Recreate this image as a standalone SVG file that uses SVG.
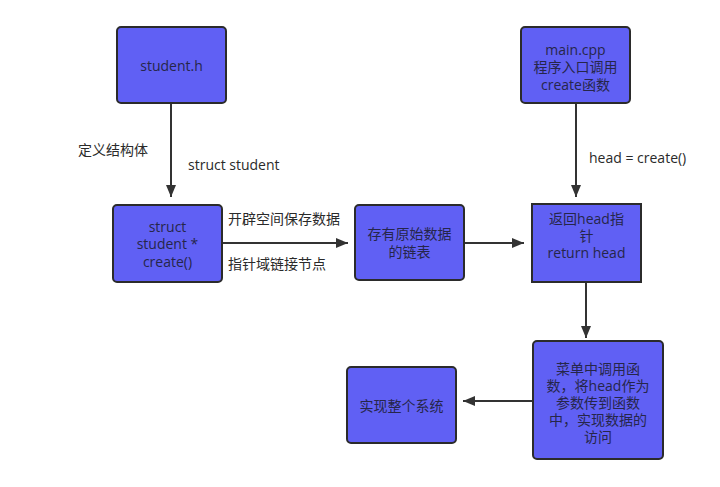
<svg xmlns="http://www.w3.org/2000/svg" width="720" height="487" viewBox="0 0 720 487">
<style>
.box{fill:#6060f4;stroke:#2b2b2b;stroke-width:2}
.t{font-family:"Open Sans","Noto Sans CJK SC",sans-serif;font-size:14px;fill:#26264a;text-anchor:middle}
.l{font-family:"Open Sans","Noto Sans CJK SC",sans-serif;font-size:14px;fill:#2a2a2a}
.c{stroke:#333;stroke-width:2;fill:none}
</style>
<defs>
<marker id="a" viewBox="0 0 12 10" refX="12" refY="5" markerWidth="12" markerHeight="10" markerUnits="userSpaceOnUse" orient="auto">
<path d="M0,0 L12,5 L0,10 z" fill="#333"/>
</marker>
</defs>
<rect width="720" height="487" fill="#fff"/>
<g id="connectors">
<line class="c" x1="171" y1="103" x2="171" y2="197" marker-end="url(#a)"/>
<line class="c" x1="576" y1="103" x2="576" y2="197" marker-end="url(#a)"/>
<line class="c" x1="222" y1="243" x2="348" y2="243" marker-end="url(#a)"/>
<line class="c" x1="464" y1="243" x2="524" y2="243" marker-end="url(#a)"/>
<line class="c" x1="586" y1="282" x2="586" y2="338" marker-end="url(#a)"/>
<line class="c" x1="533" y1="401" x2="463" y2="401" marker-end="url(#a)"/>
<text class="l" x="78" y="155">定义结构体</text>
<text class="l" x="188" y="170">struct student</text>
<text class="l" x="589" y="163">head = create()</text>
<text class="l" x="228" y="224">开辟空间保存数据</text>
<text class="l" x="228" y="269">指针域链接节点</text>
</g>
<g id="student_h">
<rect class="box" x="117" y="27" width="109" height="76" rx="4"/>
<text class="t" x="171.5" y="71">student.h</text>
</g>
<g id="create">
<rect class="box" x="113" y="205" width="109" height="77" rx="4"/>
<text class="t" x="167.5" y="232">struct<tspan x="167.5" dy="17">student *</tspan><tspan x="167.5" dy="18">create()</tspan></text>
</g>
<g id="main_cpp">
<rect class="box" x="521" y="27" width="109" height="76" rx="4"/>
<text class="t" x="575.5" y="55">main.cpp<tspan x="575.5" dy="17">程序入口调用</tspan><tspan x="575.5" dy="18">create函数</tspan></text>
</g>
<g id="list">
<rect class="box" x="355" y="205" width="109" height="75" rx="4"/>
<text class="t" x="409.5" y="239">存有原始数据<tspan x="409.5" dy="18">的链表</tspan></text>
</g>
<g id="return_head">
<rect class="box" x="532" y="204" width="109" height="78"/>
<text class="t" x="586.5" y="224">返回head指<tspan x="586.5" dy="17">针</tspan><tspan x="586.5" dy="17">return head</tspan></text>
</g>
<g id="menu">
<rect class="box" x="533" y="341" width="130" height="118" rx="4"/>
<text class="t" x="598" y="374">菜单中调用函<tspan x="598" dy="17">数，将head作为</tspan><tspan x="598" dy="17">参数传到函数</tspan><tspan x="598" dy="17">中，实现数据的</tspan><tspan x="598" dy="17">访问</tspan></text>
</g>
<g id="system">
<rect class="box" x="347" y="367" width="109" height="76" rx="4"/>
<text class="t" x="401.5" y="411">实现整个系统</text>
</g>
</svg>
